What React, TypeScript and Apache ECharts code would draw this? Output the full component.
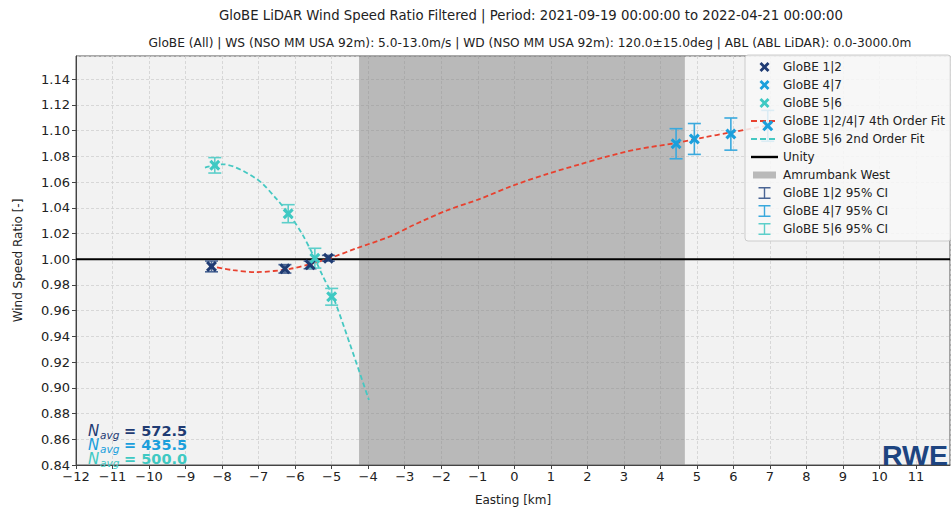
import React, { useEffect, useRef } from "react";
import * as echarts from "echarts";

const xMin = -12;
const xMax = 11.93;
const yMin = 0.84;
const yMax = 1.158;

const globe12X = [-8.29, -6.28, -5.59, -5.09];
const globe12Y = [0.9944, 0.9925, 0.9956, 1.0008];
const globe12CI = [0.0042, 0.0033, 0.003, 0.0022];

const globe47X = [4.43, 4.93, 5.93, 6.94];
const globe47Y = [1.0898, 1.0935, 1.0973, 1.1037];
const globe47CI = [0.0117, 0.012, 0.0125, 0.012];

const globe56X = [-8.2, -6.19, -5.46, -5.0];
const globe56Y = [1.073, 1.0354, 1.0008, 0.9708];
const globe56CI = [0.006, 0.007, 0.0077, 0.0065];

const fit4X = [-8.35, -7.7, -7.05, -6.14, -5.6, -5.05, -4.32, -3.4, -2.77, -1.85, -0.94, -0.04, 0.89, 1.8, 2.43, 3.35, 4.45, 5.17, 5.91, 6.91];
const fit4Y = [0.9948, 0.9915, 0.99, 0.9925, 0.9962, 1.0008, 1.0085, 1.0177, 1.0264, 1.0379, 1.0469, 1.0572, 1.0662, 1.0738, 1.079, 1.0854, 1.0905, 1.0946, 1.0985, 1.1038];

const fit2X = [-8.47, -7.98, -7.05, -6.51, -6.14, -5.79, -5.51, -5.24, -4.95, -4.5, -3.98];
const fit2Y = [1.0713, 1.0738, 1.0623, 1.0469, 1.034, 1.0187, 1.0033, 0.9867, 0.97, 0.934, 0.8905];

const unityY = 1.0;
const bandStart = -4.25;
const bandEnd = 4.67;

const nAvg = ["572.5", "435.5", "500.0"];

const C12 = "#1f3b73";
const C47 = "#1b9fdc";
const C56 = "#3fc9c3";
const CI12 = "#4a6594";
const CI47 = "#3aa9dd";
const CI56 = "#5ccfca";
const RED = "#e8412f";
const TEAL = "#45c8c2";

const FONT = "DejaVu Sans";

const xShape = "M2,0 L5,3 L8,0 L10,2 L7,5 L10,8 L8,10 L5,7 L2,10 L0,8 L3,5 L0,2 Z";
const xIcon = "path://M-2,-2 M12,12 " + xShape;
const iIcon = "path://M0,-1 M12,13 M0,0 H12 V1.4 H6.7 V10.6 H12 V12 H0 V10.6 H5.3 V1.4 H0 Z";
const rectIcon = "path://M0,0 M27,14 M2,3.5 H25 V10.5 H2 Z";
const dashIcon = "path://M0,0 M27,14 M0,6 H6 V8 H0 Z M9,6 H15 V8 H9 Z M18,6 H24 V8 H18 Z";
const solidIcon = "path://M0,0 M27,14 M0,5.8 H27 V8.2 H0 Z";

const zip = (xs: number[], ys: number[]) => xs.map((x, i) => [x, ys[i]]);
const zip3 = (xs: number[], ys: number[], es: number[]) => xs.map((x, i) => [x, ys[i], es[i]]);

function errorSeries(name: string, color: string, data: number[][]) {
  return {
    name,
    type: "custom",
    z: 3,
    itemStyle: { color },
    encode: { x: 0, y: 1 },
    data,
    renderItem: (params: any, api: any) => {
      const x = api.value(0);
      const y = api.value(1);
      const e = api.value(2);
      const top = api.coord([x, y + e]);
      const bot = api.coord([x, y - e]);
      const hw = 6.5;
      const st = { stroke: color, lineWidth: 1.6 };
      return {
        type: "group",
        children: [
          { type: "line", shape: { x1: top[0], y1: top[1], x2: bot[0], y2: bot[1] }, style: st },
          { type: "line", shape: { x1: top[0] - hw, y1: top[1], x2: top[0] + hw, y2: top[1] }, style: st },
          { type: "line", shape: { x1: bot[0] - hw, y1: bot[1], x2: bot[0] + hw, y2: bot[1] }, style: st },
        ],
      };
    },
  };
}

export default function App() {
  const ref = useRef<HTMLDivElement>(null);
  useEffect(() => {
    if (!ref.current) return;
    const chart = echarts.init(ref.current, undefined, { renderer: "svg" });
    const navColors = [C12, C47, C56];
    const navY = [431, 445, 459];
    const navGraphics: any[] = [];
    nAvg.forEach((v, i) => {
      navGraphics.push({
        type: "text", x: 88, y: navY[i], z: 10,
        style: { text: "N", fill: navColors[i], font: `italic 15px '${FONT}'`, lineHeight: 11, verticalAlign: "middle", align: "left" },
      });
      navGraphics.push({
        type: "text", x: 100, y: navY[i] + 3.5, z: 10,
        style: { text: "avg", fill: navColors[i], font: `italic 10.5px '${FONT}'`, lineHeight: 8, verticalAlign: "middle", align: "left" },
      });
      navGraphics.push({
        type: "text", x: 124, y: navY[i], z: 10,
        style: { text: "= " + v, fill: navColors[i], font: `bold 14.5px '${FONT}'`, lineHeight: 11, verticalAlign: "middle", align: "left" },
      });
    });

    const option: any = {
      animation: false,
      backgroundColor: "#ffffff",
      textStyle: { fontFamily: FONT },
      grid: {
        left: 76, right: 1, top: 56, bottom: 39,
        show: true, backgroundColor: "#f2f2f2", borderColor: "#555", borderWidth: 1,
      },
      graphic: [
        {
          type: "text", x: 531, y: 15,
          style: { text: "GloBE LiDAR Wind Speed Ratio Filtered | Period: 2021-09-19 00:00:00 to 2022-04-21 00:00:00", fill: "#222", font: `13.25px '${FONT}'`, align: "center", verticalAlign: "middle" },
        },
        {
          type: "text", x: 530, y: 43,
          style: { text: "GloBE (All) | WS (NSO MM USA 92m): 5.0-13.0m/s | WD (NSO MM USA 92m): 120.0±15.0deg | ABL (ABL LiDAR): 0.0-3000.0m", fill: "#222", font: `12.2px '${FONT}'`, align: "center", verticalAlign: "middle" },
        },
        ...navGraphics,
        {
          type: "text", x: 948, y: 455, z: 10,
          style: { text: "RWE", fill: "#1d4480", font: `900 28.5px 'Liberation Sans'`, lineHeight: 24, align: "right", verticalAlign: "middle" },
        },
      ],
      legend: {
        orient: "vertical",
        left: 745, top: 55,
        padding: [5, 6, 5, 6],
        itemWidth: 27, itemHeight: 14, itemGap: 4,
        backgroundColor: "rgba(248,248,248,0.85)",
        borderColor: "#cccccc", borderWidth: 1, borderRadius: 3,
        textStyle: { fontFamily: FONT, fontSize: 12, color: "#222", lineHeight: 14 },
        selectedMode: false,
        data: [
          { name: "GloBE 1|2", icon: xIcon },
          { name: "GloBE 4|7", icon: xIcon },
          { name: "GloBE 5|6", icon: xIcon },
          { name: "GloBE 1|2/4|7 4th Order Fit", icon: dashIcon },
          { name: "GloBE 5|6 2nd Order Fit", icon: dashIcon },
          { name: "Unity", icon: solidIcon },
          { name: "Amrumbank West", icon: rectIcon },
          { name: "GloBE 1|2 95% CI", icon: iIcon },
          { name: "GloBE 4|7 95% CI", icon: iIcon },
          { name: "GloBE 5|6 95% CI", icon: iIcon },
        ],
      },
      xAxis: {
        type: "value", min: xMin, max: xMax, interval: 1,
        name: "Easting [km]", nameLocation: "middle", nameGap: 29,
        nameTextStyle: { fontFamily: FONT, fontSize: 12, color: "#222" },
        axisLine: { show: true, onZero: false, lineStyle: { color: "#444" } },
        axisTick: { show: true, length: 4, lineStyle: { color: "#444" } },
        axisLabel: {
          fontFamily: FONT, fontSize: 13, color: "#222", margin: 5, showMaxLabel: false,
          formatter: (v: number) => {
            if (Math.abs(v - Math.round(v)) > 1e-6) return "";
            const r = Math.round(v);
            return r < 0 ? "\u2212" + Math.abs(r) : String(r);
          },
        },
        splitLine: { show: true, lineStyle: { color: "#cfcfcf", type: [3, 2], width: 0.8 } },
      },
      yAxis: {
        type: "value", min: yMin, max: yMax, interval: 0.02,
        name: "Wind Speed Ratio [-]", nameLocation: "middle", nameGap: 52, nameRotate: 90,
        nameTextStyle: { fontFamily: FONT, fontSize: 12, color: "#222" },
        axisLine: { show: true, onZero: false, lineStyle: { color: "#444" } },
        axisTick: { show: true, length: 4, lineStyle: { color: "#444" } },
        axisLabel: {
          fontFamily: FONT, fontSize: 13, color: "#222", margin: 6, showMaxLabel: false,
          formatter: (v: number) => (Math.abs(v * 50 - Math.round(v * 50)) > 1e-6 ? "" : v.toFixed(2)),
        },
        splitLine: { show: true, lineStyle: { color: "#cfcfcf", type: [3, 2], width: 0.8 } },
      },
      series: [
        {
          name: "Amrumbank West", type: "line", z: 1, data: [],
          itemStyle: { color: "#b9b9b9" }, lineStyle: { color: "#b9b9b9" },
          markArea: {
            silent: true,
            itemStyle: { color: "rgba(128,128,128,0.5)" },
            data: [[{ xAxis: bandStart }, { xAxis: bandEnd }]],
          },
        },
        {
          name: "Unity", type: "line", z: 2, symbol: "none",
          data: [[xMin, unityY], [xMax, unityY]],
          itemStyle: { color: "#000" }, lineStyle: { color: "#000", width: 2 },
        },
        {
          name: "GloBE 1|2/4|7 4th Order Fit", type: "line", z: 2, symbol: "none", smooth: 0.3,
          data: zip(fit4X, fit4Y),
          itemStyle: { color: RED }, lineStyle: { color: RED, width: 1.8, type: [5, 3] },
        },
        {
          name: "GloBE 5|6 2nd Order Fit", type: "line", z: 2, symbol: "none", smooth: 0.3,
          data: zip(fit2X, fit2Y),
          itemStyle: { color: TEAL }, lineStyle: { color: TEAL, width: 1.8, type: [5, 3] },
        },
        errorSeries("GloBE 1|2 95% CI", CI12, zip3(globe12X, globe12Y, globe12CI)),
        errorSeries("GloBE 4|7 95% CI", CI47, zip3(globe47X, globe47Y, globe47CI)),
        errorSeries("GloBE 5|6 95% CI", CI56, zip3(globe56X, globe56Y, globe56CI)),
        {
          name: "GloBE 1|2", type: "scatter", z: 4, symbol: "path://" + xShape, symbolSize: 11,
          data: zip(globe12X, globe12Y), itemStyle: { color: C12, opacity: 1 },
        },
        {
          name: "GloBE 4|7", type: "scatter", z: 4, symbol: "path://" + xShape, symbolSize: 11,
          data: zip(globe47X, globe47Y), itemStyle: { color: C47, opacity: 1 },
        },
        {
          name: "GloBE 5|6", type: "scatter", z: 4, symbol: "path://" + xShape, symbolSize: 11,
          data: zip(globe56X, globe56Y), itemStyle: { color: C56, opacity: 1 },
        },
      ],
    };
    chart.setOption(option);
    return () => chart.dispose();
  }, []);
  return (
    <div
      ref={ref}
      style={{ position: "fixed", left: 0, top: 0, width: 951, height: 511 }}
    />
  );
}
